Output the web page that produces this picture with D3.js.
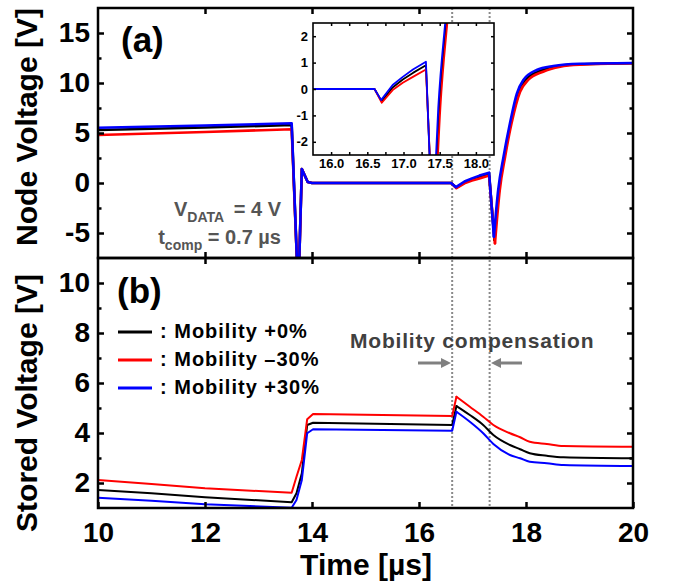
<!DOCTYPE html>
<html><head><meta charset="utf-8">
<script src="https://cdn.jsdelivr.net/npm/d3@7"></script>
<style>body{margin:0;background:#fff}svg{display:block;font-family:"Liberation Sans",Arial,sans-serif;font-weight:bold}</style>
</head><body>
<script>
// ---- tick values ----
const xTicks = [10, 12, 14, 16, 18, 20];
const nodeTicks = [-5, 0, 5, 10, 15];
const nodeMinorTicks = [-2.5, 2.5, 7.5, 12.5];
const storedTicks = [2, 4, 6, 8, 10];
const storedMinorTicks = [3, 5, 7, 9];
const insetXTicks = [16.0, 16.5, 17.0, 17.5, 18.0];
const insetXMinorTicks = [16.25, 16.75, 17.25, 17.75];
const insetYTicks = [-2, -1, 0, 1, 2];
const compBounds = [16.62, 17.32];

// ---- (a) node voltage ----
const nodeTimeBlack = [10, 12, 13.62, 13.735, 13.75, 13.81, 13.92, 14.0, 16.60, 16.70, 16.85, 16.99, 17.13, 17.31, 17.41, 17.495, 17.595, 17.715, 17.86, 17.99, 18.26, 18.58, 19.00, 20.00];
const nodeVoltBlack = [5.3, 5.55, 5.8, -10, -10, 1.4, 0.1, 0, 0, -0.47, 0.06, 0.36, 0.61, 0.9, -5.7, -0.7, 2.63, 5.97, 9.05, 10.3, 11.2, 11.67, 11.88, 11.98];
const nodeTimeRed = [10, 12, 13.62, 13.735, 13.75, 13.81, 13.92, 14.0, 16.60, 16.70, 16.85, 16.99, 17.13, 17.31, 17.42, 17.51, 17.61, 17.73, 17.89, 18.04, 18.32, 18.64, 19.00, 20.00];
const nodeVoltRed = [4.8, 5.1, 5.37, -10, -10, 1.4, 0.1, 0, 0, -0.52, -0.04, 0.24, 0.46, 0.74, -6.03, -0.7, 2.63, 5.97, 9.13, 10.3, 11.13, 11.63, 11.83, 11.97];
const nodeTimeBlue = [10, 12, 13.62, 13.735, 13.75, 13.81, 13.92, 14.0, 16.60, 16.69, 16.85, 16.99, 17.13, 17.31, 17.40, 17.48, 17.58, 17.70, 17.83, 17.95, 18.20, 18.51, 19.00, 20.00];
const nodeVoltBlue = [5.53, 5.75, 5.97, -10, -10, 1.4, 0.1, 0, 0, -0.42, 0.15, 0.46, 0.74, 1.03, -5.37, -0.7, 2.63, 5.97, 8.97, 10.3, 11.3, 11.7, 11.92, 12.0];

// ---- (b) stored voltage ----
const storedTime = [10, 11, 12, 13.62, 13.71, 13.81, 13.91, 14.02, 16.62, 16.70, 16.95, 17.20, 17.39, 17.70, 17.89, 18.07, 18.39, 18.70, 20];
const storedBlack = [1.72, 1.59, 1.43, 1.23, 1.59, 2.39, 4.32, 4.41, 4.32, 5.08, 4.72, 4.32, 3.92, 3.52, 3.35, 3.19, 3.09, 3.03, 2.99];
const storedRed = [2.12, 1.96, 1.79, 1.61, 2.25, 2.92, 4.55, 4.76, 4.68, 5.45, 5.05, 4.65, 4.32, 3.99, 3.83, 3.65, 3.56, 3.48, 3.45];
const storedBlue = [1.41, 1.29, 1.15, 1.01, 1.32, 2.12, 3.99, 4.15, 4.09, 4.85, 4.45, 3.99, 3.56, 3.12, 2.99, 2.85, 2.79, 2.72, 2.68];

const legendLabels = [": Mobility +0%", ": Mobility \u201330%", ": Mobility +30%"];
const colors = ["#000000", "#ff0000", "#0000ff"];

const FONT = "Liberation Sans, Arial, sans-serif";
const L = 98, R = 633, T0 = 8, MID = 258, B = 508;
const svg = d3.select("body").append("svg").attr("width", 680).attr("height", 584);

const x = d3.scaleLinear().domain([10, 20]).range([L, R]);
const yNode = d3.scaleLinear().domain([-7.5, 17.5]).range([MID, T0]);
const yStored = d3.scaleLinear().domain([1, 11]).range([B, MID]);

const IL = 313, IR = 494, IT = 23, IB = 155;
const xi = d3.scaleLinear().domain([15.75, 18.25]).range([IL, IR]);
const yi = d3.scaleLinear().domain([-2.5, 2.5]).range([IB, IT]);

const defs = svg.append("defs");
function clip(id, x0, y0, x1, y1) {
  defs.append("clipPath").attr("id", id).append("rect")
    .attr("x", x0).attr("y", y0).attr("width", x1 - x0).attr("height", y1 - y0);
}
clip("cTop", L, T0, R, MID);
clip("cBot", L, MID, R, B);
clip("cIn", IL, IT, IR, IB);

// dotted compensation lines
svg.append("g").selectAll("line").data(compBounds).join("line")
  .attr("x1", d => x(d)).attr("x2", d => x(d)).attr("y1", T0).attr("y2", B)
  .attr("stroke", "#8a8a8a").attr("stroke-width", 2).attr("stroke-dasharray", "2,2");

const nodeSeries = [
  {t: nodeTimeBlack, v: nodeVoltBlack, c: colors[0]},
  {t: nodeTimeRed, v: nodeVoltRed, c: colors[1]},
  {t: nodeTimeBlue, v: nodeVoltBlue, c: colors[2]}
];
const storedSeries = [
  {t: storedTime, v: storedBlack, c: colors[0]},
  {t: storedTime, v: storedRed, c: colors[1]},
  {t: storedTime, v: storedBlue, c: colors[2]}
];
// split index: straight segments up to the last turning point, smooth relaxation afterwards
function splitIndex(s, mode) {
  let best = -1;
  s.t.forEach((t, i) => {
    if (mode === "min" && t > 17 && (best < 0 || s.v[i] < s.v[best])) best = i;
    if (mode === "max" && t > 16.5 && (best < 0 || s.v[i] > s.v[best])) best = i;
  });
  return best;
}
function drawLines(series, xs, ys, clipId, width, mode) {
  const g = svg.append("g").attr("clip-path", `url(#${clipId})`);
  series.forEach(s => {
    const pts = s.t.map((t, i) => [t, s.v[i]]);
    const k = splitIndex(s, mode);
    const lin = d3.line().x(d => xs(d[0])).y(d => ys(d[1]));
    const smo = d3.line().x(d => xs(d[0])).y(d => ys(d[1])).curve(d3.curveMonotoneX);
    [[pts.slice(0, k + 1), lin], [pts.slice(k), smo]].forEach(([p, gen]) => {
      g.append("path").datum(p).attr("d", gen)
        .attr("fill", "none").attr("stroke", s.c).attr("stroke-width", width)
        .attr("stroke-linejoin", "round").attr("stroke-linecap", "round");
    });
  });
}
drawLines(nodeSeries, x, yNode, "cTop", 2.6, "min");
drawLines(storedSeries, x, yStored, "cBot", 2, "max");

function styleAxis(g, size) {
  g.attr("font-family", FONT).attr("font-size", size).attr("font-weight", "bold");
  g.select(".domain").remove();
  g.selectAll(".tick line").attr("stroke", "#000").attr("stroke-width", 2.5);
  g.selectAll(".tick text").attr("fill", "#000");
  return g;
}
function panelAxes(ys, yT, yMin, top, bottom, showX) {
  styleAxis(svg.append("g").attr("transform", `translate(${L},0)`)
    .call(d3.axisLeft(ys).tickValues(yT).tickSize(-6).tickPadding(8).tickFormat(d => String(d))), 28);
  styleAxis(svg.append("g").attr("transform", `translate(${L},0)`)
    .call(d3.axisLeft(ys).tickValues(yMin).tickSize(-3.5).tickFormat("")), 28);
  styleAxis(svg.append("g").attr("transform", `translate(${R},0)`)
    .call(d3.axisRight(ys).tickValues(yT).tickSize(-6).tickFormat("")), 28);
  styleAxis(svg.append("g").attr("transform", `translate(${R},0)`)
    .call(d3.axisRight(ys).tickValues(yMin).tickSize(-3.5).tickFormat("")), 28);
  styleAxis(svg.append("g").attr("transform", `translate(0,${top})`)
    .call(d3.axisTop(x).tickValues(xTicks.slice(1, -1)).tickSize(-6).tickFormat("")), 28);
  const gb = svg.append("g").attr("transform", `translate(0,${bottom})`)
    .call(d3.axisBottom(x).tickValues(showX ? xTicks : xTicks.slice(1, -1)).tickSize(-6).tickPadding(14)
      .tickFormat(showX ? (d => String(d)) : ""));
  styleAxis(gb, 28);
  svg.append("rect").attr("x", L).attr("y", top).attr("width", R - L).attr("height", bottom - top)
    .attr("fill", "none").attr("stroke", "#000").attr("stroke-width", 2.5);
}
panelAxes(yNode, nodeTicks, nodeMinorTicks, T0, MID, false);
panelAxes(yStored, storedTicks, storedMinorTicks, MID, B, true);

// inset
svg.append("rect").attr("x", IL).attr("y", IT).attr("width", IR - IL).attr("height", IB - IT).attr("fill", "#fff");
drawLines(nodeSeries, xi, yi, "cIn", 1.8, "min");
function insetAxes() {
  const s = (g) => { styleAxis(g, 13); g.selectAll(".tick line").attr("stroke-width", 1.5); return g; };
  s(svg.append("g").attr("transform", `translate(${IL},0)`)
    .call(d3.axisLeft(yi).tickValues(insetYTicks).tickSize(-3).tickPadding(5).tickFormat(d => String(d))));
  s(svg.append("g").attr("transform", `translate(${IR},0)`)
    .call(d3.axisRight(yi).tickValues(insetYTicks).tickSize(-3).tickFormat("")));
  s(svg.append("g").attr("transform", `translate(0,${IB})`)
    .call(d3.axisBottom(xi).tickValues(insetXTicks).tickSize(-3).tickPadding(4).tickFormat(d3.format(".1f"))));
  s(svg.append("g").attr("transform", `translate(0,${IB})`)
    .call(d3.axisBottom(xi).tickValues(insetXMinorTicks).tickSize(-3).tickFormat("")));
  s(svg.append("g").attr("transform", `translate(0,${IT})`)
    .call(d3.axisTop(xi).tickValues(insetXTicks.concat(insetXMinorTicks)).tickSize(-3).tickFormat("")));
  svg.append("rect").attr("x", IL).attr("y", IT).attr("width", IR - IL).attr("height", IB - IT)
    .attr("fill", "none").attr("stroke", "#000").attr("stroke-width", 1.6);
}
insetAxes();

// axis titles
svg.append("text").attr("x", 366).attr("y", 575).attr("text-anchor", "middle")
  .attr("font-size", 30).text("Time [\u00b5s]");
svg.append("text").attr("transform", "translate(37,127) rotate(-90)").attr("text-anchor", "middle")
  .attr("font-size", 30).text("Node Voltage [V]");
svg.append("text").attr("transform", "translate(37,403) rotate(-90)").attr("text-anchor", "middle")
  .attr("font-size", 30).text("Stored Voltage [V]");

// panel labels
svg.append("text").attr("x", 121).attr("y", 52).attr("font-size", 35).text("(a)");
svg.append("text").attr("x", 117).attr("y", 303).attr("font-size", 35).text("(b)");

// annotations
const ann1 = svg.append("text").attr("x", 281).attr("y", 216).attr("text-anchor", "end")
  .attr("font-size", 20).attr("fill", "#555");
ann1.append("tspan").text("V");
ann1.append("tspan").attr("font-size", 14).attr("dy", 6).text("DATA");
ann1.append("tspan").attr("dy", -6).text("\u2009 = 4 V");
const ann2 = svg.append("text").attr("x", 281).attr("y", 244).attr("text-anchor", "end")
  .attr("font-size", 20).attr("fill", "#555");
ann2.append("tspan").text("t");
ann2.append("tspan").attr("font-size", 14).attr("dy", 6).text("comp");
ann2.append("tspan").attr("dy", -6).text(" = 0.7 \u00b5s");

svg.append("text").attr("x", 350).attr("y", 348).attr("font-size", 21).attr("letter-spacing", 0.8)
  .attr("fill", "#404040").text("Mobility compensation");

// arrows
const arrowG = svg.append("g").attr("fill", "#808080").attr("stroke", "#808080");
arrowG.append("line").attr("x1", 418).attr("x2", 443).attr("y1", 363).attr("y2", 363).attr("stroke-width", 3);
arrowG.append("path").attr("d", "M441,358 L451,363 L441,368 Z").attr("stroke", "none");
arrowG.append("line").attr("x1", 522).attr("x2", 499).attr("y1", 363).attr("y2", 363).attr("stroke-width", 3);
arrowG.append("path").attr("d", "M501,358 L491,363 L501,368 Z").attr("stroke", "none");

// legend
const legendY = [332, 360, 388];
legendLabels.forEach((lab, i) => {
  svg.append("line").attr("x1", 118).attr("x2", 152).attr("y1", legendY[i]).attr("y2", legendY[i])
    .attr("stroke", colors[i]).attr("stroke-width", 3);
  svg.append("text").attr("x", 160).attr("y", legendY[i] + 6).attr("font-size", 20)
    .attr("letter-spacing", 1).text(lab);
});
</script>
</body></html>
